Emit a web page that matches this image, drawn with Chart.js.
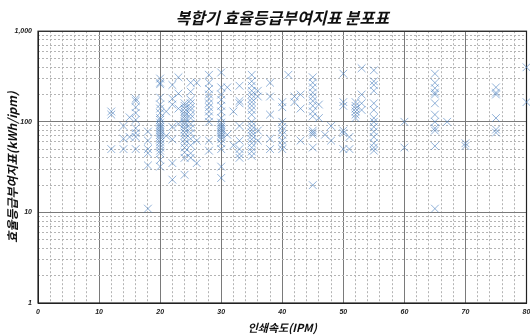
<!DOCTYPE html>
<html>
<head>
<meta charset="utf-8">
<script src="https://cdn.jsdelivr.net/npm/chart.js@4.4.1/dist/chart.umd.min.js"></script>
<style>
  html, body { margin: 0; padding: 0; background: #fff; }
</style>
</head>
<body>
<canvas id="scatterChart" width="530" height="336"></canvas>
<script>
// print speed (IPM) for each column of marks
const speeds = [12, 14, 15, 16, 18, 20, 21, 22, 23, 24, 25, 26, 28, 30, 31, 32, 33, 35, 36, 38, 40, 41, 42, 43, 45, 46, 47, 48, 50, 51, 52, 53, 55, 60, 65, 67, 70, 75, 80];

// efficiency index values (kWh/ipm) per speed
const indexValues = [
  [130, 120, 50],
  [90, 65, 50],
  [112, 68],
  [180, 170, 145, 125, 105, 85, 75, 68, 50],
  [78, 62, 50, 45, 33, 11],
  [300, 270, 260, 185, 155, 140, 125, 110, 105, 98, 92, 88, 84, 80, 76, 72, 68, 64, 60, 56, 52, 48, 45, 38, 32],
  [130, 70],
  [255, 180, 155, 88, 64, 35, 23],
  [310, 205, 140, 95],
  [160, 150, 140, 130, 122, 115, 108, 100, 94, 88, 82, 76, 70, 64, 58, 52, 46, 40, 26],
  [270, 215, 175, 160, 145, 135, 120, 110, 95, 85, 75, 65, 55, 45, 40],
  [270, 62, 35],
  [330, 270, 230, 200, 180, 160, 145, 130, 115, 100, 62, 48],
  [350, 240, 200, 175, 150, 130, 110, 98, 92, 88, 84, 80, 76, 72, 68, 64, 58, 50, 32, 24],
  [240, 72],
  [130, 55],
  [250, 170, 160, 90, 62, 50, 44, 40],
  [330, 280, 250, 220, 200, 180, 165, 150, 135, 120, 100, 90, 82, 76, 70, 64, 58, 52, 47, 42],
  [220, 190, 80, 62],
  [270, 190, 120, 65, 50],
  [165, 145, 100, 88, 80, 72, 62, 55, 50],
  [330],
  [190, 165],
  [200, 140, 62],
  [310, 270, 240, 210, 190, 170, 150, 130, 115, 80, 76, 72, 52, 20],
  [155, 110],
  [72],
  [90, 62],
  [340, 165, 150, 80, 75, 50],
  [68, 50],
  [165, 150, 140, 130, 120, 110],
  [390, 200, 160, 135],
  [370, 280, 255, 220, 160, 135, 110, 100, 88, 78, 68, 58, 52, 48],
  [100, 52],
  [340, 270, 235, 210, 200, 160, 120, 100, 85, 80, 54, 11],
  [100],
  [58, 54],
  [240, 210, 200, 110, 82, 76],
  [400, 165]
];

const xMajorTicks = [0, 10, 20, 30, 40, 50, 60, 70, 80];
const yMajorTicks = [1, 10, 100, 1000];

const points = speeds.flatMap((s, i) => indexValues[i].map(v => ({ x: s, y: v })));

const tickFont = { family: 'Liberation Sans', size: 7, weight: 'bold', style: 'italic' };

// minor grid values (every 2 IPM, 2..9 per decade)
const xMinor = [];
for (let v = 2; v < 80; v += 2) if (v % 10 !== 0) xMinor.push(v);
const yMinor = [];
for (let d = 1; d < 1000; d *= 10) for (let m = 2; m <= 9; m++) yMinor.push(m * d);

// frame around the plot area
const framePlugin = {
  id: 'frame',
  beforeDatasetsDraw(chart) {
    const { ctx, chartArea: a } = chart;
    ctx.save();
    ctx.strokeStyle = '#222';
    ctx.lineWidth = 1.2;
    ctx.strokeRect(a.left, a.top, a.right - a.left, a.bottom - a.top);
    ctx.restore();
  }
};

new Chart(document.getElementById('scatterChart'), {
  type: 'scatter',
  data: {
    datasets: [{
      label: '복합기',
      data: points,
      xAxisID: 'x',
      yAxisID: 'y',
      clip: false,
      pointStyle: 'crossRot',
      pointRadius: 5.5,
      pointBorderWidth: 1,
      borderColor: 'rgba(74, 126, 190, 0.6)',
      backgroundColor: 'rgba(74, 126, 190, 0.6)'
    }]
  },
  options: {
    responsive: false,
    animation: false,
    layout: { autoPadding: false, padding: { top: 4, left: 5, right: 3.5, bottom: 2 } },
    plugins: {
      legend: { display: false },
      tooltip: { enabled: false },
      title: {
        display: true,
        fullSize: false,
        text: '복합기 효율등급부여지표 분포표',
        color: '#111',
        font: { family: 'Noto Sans CJK KR', size: 16, weight: 'bold', style: 'italic' },
        padding: { top: 4, bottom: 4 }
      }
    },
    scales: {
      x: {
        type: 'linear',
        position: 'bottom',
        min: 0,
        max: 80,
        afterBuildTicks: s => { s.ticks = xMajorTicks.map(v => ({ value: v })); },
        afterFit: s => { s.paddingLeft = 0; s.paddingRight = 0; s.height = 31; },
        ticks: { color: '#222', font: tickFont, maxRotation: 0, padding: 5 },
        grid: { color: '#7a7a7a', lineWidth: 1, drawTicks: false },
        border: { color: '#222', width: 1 },
        title: {
          display: true, text: '인쇄속도(IPM)', color: '#111',
          font: { family: 'Noto Sans CJK KR', size: 11, weight: 'bold', style: 'italic' },
          padding: { top: 5, bottom: 0 }
        }
      },
      x2: {
        type: 'linear',
        position: 'bottom',
        min: 0,
        max: 80,
        afterBuildTicks: s => { s.ticks = xMinor.map(v => ({ value: v })); },
        afterFit: s => { s.height = 0; s.paddingLeft = 0; s.paddingRight = 0; },
        ticks: { display: false },
        grid: { color: '#b4b4b4', lineWidth: 1, drawTicks: false },
        border: { display: false, dash: [2, 2] }
      },
      y: {
        type: 'logarithmic',
        position: 'left',
        min: 1,
        max: 1000,
        afterBuildTicks: s => { s.ticks = yMajorTicks.map(v => ({ value: v })); },
        afterFit: s => { s.width = 33; s.paddingTop = 0; s.paddingBottom = 0; },
        ticks: { color: '#222', font: tickFont, padding: 6, callback: v => v.toLocaleString('en-US') },
        grid: { color: '#7a7a7a', lineWidth: 1, drawTicks: false },
        border: { color: '#222', width: 1 },
        title: {
          display: true, text: '효율등급부여지표(kWh/ipm)', color: '#111',
          font: { family: 'Noto Sans CJK KR', size: 12, weight: 'bold', style: 'italic' },
          padding: { top: 0, bottom: 2 }
        }
      },
      y2: {
        type: 'logarithmic',
        position: 'left',
        min: 1,
        max: 1000,
        afterBuildTicks: s => { s.ticks = yMinor.map(v => ({ value: v })); },
        afterFit: s => { s.width = 0; },
        ticks: { display: false },
        grid: { color: '#b4b4b4', lineWidth: 1, drawTicks: false },
        border: { display: false, dash: [2, 2] }
      }
    }
  },
  plugins: [framePlugin]
});
</script>
</body>
</html>
